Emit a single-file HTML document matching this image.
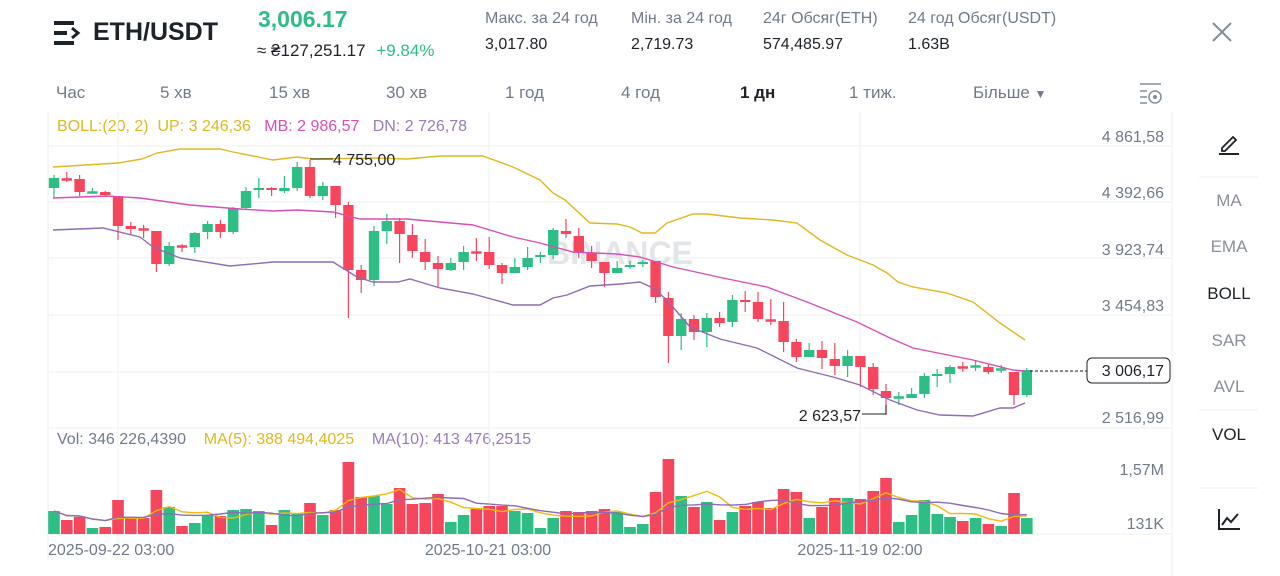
<!DOCTYPE html>
<html><head><meta charset="utf-8">
<style>
*{margin:0;padding:0;box-sizing:border-box}
body{width:1280px;height:576px;background:#fff;font-family:"Liberation Sans","DejaVu Sans",sans-serif;position:relative;overflow:hidden;color:#1e2329}
.a{position:absolute;white-space:nowrap}
.g{color:#707a8a}
.tab{position:absolute;top:83px;font-size:17px;color:#707a8a}
.side{position:absolute;left:1199px;width:60px;text-align:center;font-size:17px;color:#8a8f98}
</style></head><body>
<svg class="a" style="left:54px;top:21px" width="28" height="24" viewBox="0 0 28 24">
<rect x="0" y="0" width="20" height="4" fill="#1e2329"/><rect x="0" y="10" width="13" height="4" fill="#1e2329"/><rect x="0" y="20" width="20" height="4" fill="#1e2329"/>
<path d="M18 7 L24 12 L18 17" stroke="#1e2329" stroke-width="3" fill="none"/></svg>
<div class="a" style="left:93px;top:18px;font-size:25px;font-weight:bold">ETH/USDT</div>
<div class="a" style="left:258px;top:6px;font-size:23px;font-weight:bold;color:#2ebd85">3,006.17</div>
<div class="a" style="left:257px;top:41px;font-size:17px">≈ ₴127,251.17 <span style="color:#2ebd85;margin-left:6px">+9.84%</span></div>
<div class="a g" style="left:485px;top:10px;font-size:16px">Макс. за 24 год</div>
<div class="a" style="left:485px;top:36px;font-size:16px">3,017.80</div>
<div class="a g" style="left:631px;top:10px;font-size:16px">Мін. за 24 год</div>
<div class="a" style="left:631px;top:36px;font-size:16px">2,719.73</div>
<div class="a g" style="left:763px;top:10px;font-size:16px">24г Обсяг(ETH)</div>
<div class="a" style="left:763px;top:36px;font-size:16px">574,485.97</div>
<div class="a g" style="left:908px;top:10px;font-size:16px">24 год Обсяг(USDT)</div>
<div class="a" style="left:908px;top:36px;font-size:16px">1.63B</div>
<svg class="a" style="left:1211px;top:21px" width="22" height="22"><path d="M2 2L20 20M20 2L2 20" stroke="#848e9c" stroke-width="2"/></svg>
<div class="tab" style="left:56px">Час</div>
<div class="tab" style="left:160px">5 хв</div>
<div class="tab" style="left:269px">15 хв</div>
<div class="tab" style="left:386px">30 хв</div>
<div class="tab" style="left:505px">1 год</div>
<div class="tab" style="left:621px">4 год</div>
<div class="tab" style="left:740px;color:#1e2329;font-weight:bold">1 дн</div>
<div class="tab" style="left:849px">1 тиж.</div>
<div class="tab" style="left:973px">Більше <span style="font-size:12px">▼</span></div>
<svg class="a" style="left:1139px;top:82px" width="24" height="22"><path d="M1 2H22M1 9H8M1 15H8M1 21H8" stroke="#848e9c" stroke-width="1.5"/><circle cx="16" cy="15" r="6" fill="none" stroke="#848e9c" stroke-width="1.5"/><circle cx="16" cy="15" r="2" fill="#848e9c"/></svg>

<div class="a" style="left:57px;top:118px;font-size:16px"><span style="color:#e0b81f">BOLL:(20, 2)&nbsp; UP: 3 246,36</span>&nbsp;&nbsp; <span style="color:#d94fb5">MB: 2 986,57</span>&nbsp;&nbsp; <span style="color:#9b7bb8">DN: 2 726,78</span></div>
<div class="a" style="left:57px;top:431px;font-size:16px"><span style="color:#707a8a">Vol: 346 226,4390</span>&nbsp;&nbsp;&nbsp; <span style="color:#e0b81f">MA(5): 388 494,4025</span>&nbsp;&nbsp;&nbsp; <span style="color:#9b7bb8">MA(10): 413 476,2515</span></div>

<svg id="ch" class="a" style="left:0;top:0" width="1280" height="576"></svg>

<div class="side" style="top:130px"><svg width="26" height="26"><path d="M6 18L17 7L20 10L9 21H6Z" fill="none" stroke="#1e2329" stroke-width="1.8"/><path d="M3 24H23" stroke="#1e2329" stroke-width="2"/></svg></div>
<div class="side" style="top:191px">MA</div>
<div class="side" style="top:237px">EMA</div>
<div class="side" style="top:284px;color:#1e2329">BOLL</div>
<div class="side" style="top:331px">SAR</div>
<div class="side" style="top:377px">AVL</div>
<div class="side" style="top:425px;color:#1e2329">VOL</div>
<div class="side" style="top:506px"><svg width="26" height="26"><path d="M3 3V23H24" fill="none" stroke="#1e2329" stroke-width="2"/><path d="M6 19L11 12L15 16L22 8" fill="none" stroke="#1e2329" stroke-width="2"/></svg></div>

<script>
var S='';
function L(x1,y1,x2,y2,c,w,d){S+='<line x1="'+x1+'" y1="'+y1+'" x2="'+x2+'" y2="'+y2+'" stroke="'+c+'" stroke-width="'+(w||1)+'"'+(d?' stroke-dasharray="'+d+'"':'')+'/>';}
function T(x,y,t,c,s,a,fw){S+='<text x="'+x+'" y="'+y+'" fill="'+c+'" font-size="'+s+'" text-anchor="'+(a||'start')+'"'+(fw?' font-weight="bold"':'')+' font-family="Liberation Sans, sans-serif">'+t+'</text>';}
var G='#eef0f2';
[146,202,258,315,372,428,534].forEach(function(y){L(48,y,1172,y,G);});
[48,118,489,860].forEach(function(x){L(x,112,x,560,G);});
L(1172,112,1172,576,G);
[177,410,488].forEach(function(y){L(1199,y,1258,y,'#eaecef');});
T(620,264,'BINANCE','#e3e5e8',32,'middle',1);
var ax=[['4 861,58',137],['4 392,66',193],['3 923,74',250],['3 454,83',306],['2 516,99',418],['1,57M',470],['131K',524]];
ax.forEach(function(a){T(1164,a[1]+5,a[0],'#707a8a',16,'end');});
T(48,555,'2025-09-22 03:00','#707a8a',16,'start');
T(488,555,'2025-10-21 03:00','#707a8a',16,'middle');
T(860,555,'2025-11-19 02:00','#707a8a',16,'middle');
var C=[[188,178,175,198],[179,180,172,182],[179,192,175,196],[193,192,188,194],[192,195,191,197],[196,226,196,240],[226,229,222,234],[229,230,225,238],[231,264,231,272],[264,246,242,266],
[246,247,244,252],[247,233,232,253],[232,224,221,239],[224,232,220,238],[232,208,207,234],[208,191,187,210],[190,188,178,198],[188,190,187,196],[191,188,176,193],[188,167,162,191],
[167,196,160,198],[196,186,182,200],[186,205,186,218],[205,270,202,318],[270,280,265,293],[280,231,226,286],[231,221,214,244],[221,234,218,263],[235,251,224,258],[252,262,239,270],
[263,269,256,288],[270,263,258,271],[262,252,246,270],[252,253,238,261],[252,265,237,269],[265,273,263,284],[273,267,258,273],[267,258,247,270],[257,255,252,263],[255,230,228,259],
[231,234,219,238],[236,252,228,258],[253,261,246,268],[262,273,262,287],[273,268,261,273],[267,265,261,269],[264,262,260,267],[261,297,261,303],[298,336,292,363],[336,319,313,350],
[319,332,315,340],[332,318,313,347],[318,323,312,327],[322,300,295,327],[300,302,291,312],[302,319,292,322],[320,321,299,325],[321,342,302,352],[342,357,339,362],[357,350,343,357],
[350,358,341,369],[359,366,343,375],[366,356,350,377],[356,367,356,387],[367,389,363,395],[391,398,384,415],[398,397,392,405],[398,394,388,398],[394,376,373,398],[376,374,369,387],
[374,367,365,383],[367,368,362,372],[367,366,360,371],[367,372,364,374],[370,369,365,373],[372,395,372,405],[395,370,368,397]];
var V=[511,520,517,528,527,500,518,518,490,507,526,523,515,516,510,509,511,525,510,513,503,515,510,462,497,496,504,488,504,503,494,522,515,509,506,506,511,513,528,518,
511,512,511,509,512,527,524,492,459,496,507,502,520,512,506,502,508,489,492,518,507,498,498,499,491,478,522,515,500,514,517,521,518,524,526,493,518];
var GR='#2ebd85',RD='#f6465d';
function X(i){return 54+12.8*i;}
C.forEach(function(c,i){var x=X(i),up=c[1]<c[0],col=up?GR:RD;var t=Math.min(c[0],c[1]),b=Math.max(c[0],c[1]);if(b-t<1.5){t-=0.75;b+=0.75;}
L(x,c[2],x,c[3],col,1.2);S+='<rect x="'+(x-5.2)+'" y="'+t+'" width="10.4" height="'+(b-t)+'" fill="'+col+'"/>';
var v=V[i];S+='<rect x="'+(x-5.8)+'" y="'+v+'" width="11.6" height="'+(534-v)+'" fill="'+col+'"/>';});
function P(pts,c){S+='<polyline points="'+pts+'" fill="none" stroke="'+c+'" stroke-width="1.4"/>';}
P('53,167 118,163 142,159 157,153 180,149 220,149 233,152 273,160 297,157 313,159 373,158 407,159 440,156 483,156 513,167 540,180 553,193 565,200 590,223 617,224 630,227 642,233 655,233 667,223 693,214 707,214 740,218 773,220 797,223 820,240 847,255 873,265 887,273 898,282 913,287 947,293 973,302 1000,323 1025,340','#e0b81f');
P('53,198 107,196 140,198 190,205 240,209 273,211 297,210 333,212 360,219 407,219 473,225 513,237 540,243 573,252 617,254 640,257 673,267 723,278 767,287 807,302 857,322 890,338 913,348 973,360 1013,370 1025,371','#d94fb5');
P('53,230 103,228 140,237 153,247 180,258 230,266 273,262 333,262 357,277 373,282 398,282 410,279 440,288 473,294 513,305 540,305 553,298 567,295 590,286 620,284 640,282 653,288 667,300 690,327 720,339 757,348 797,368 833,377 860,385 890,400 917,410 940,415 973,416 1000,408 1013,408 1025,403','#8e6bb5');
function MA(n,c){var p=[];for(var i=0;i<V.length;i++){var s=0,k=0;for(var j=Math.max(0,i-n+1);j<=i;j++){s+=534-V[j];k++;}p.push(X(i)+','+(534-s/k).toFixed(1));}P(p.join(' '),c);}
MA(5,'#f0b90b');MA(10,'#8e6bb5');
L(310,159,333,159,'#1e2329');T(333,165,'4 755,00','#1e2329',16);
L(862,414,886,414,'#1e2329');L(886,414,886,405,'#1e2329');T(861,421,'2 623,57','#1e2329',16,'end');
L(1030,371,1087,371,'#1e2329',1,'3,2');
S+='<rect x="1087" y="358" width="83" height="25" rx="5" fill="#fff" stroke="#1e2329"/>';
T(1164,376,'3 006,17','#1e2329',16,'end');
document.getElementById('ch').innerHTML=S;
</script>
</body></html>
